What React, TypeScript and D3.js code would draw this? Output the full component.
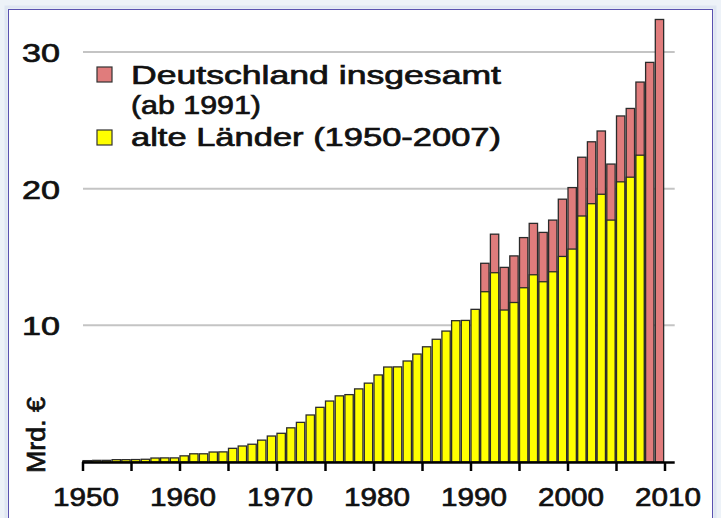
import React from 'react';
import * as d3 from 'd3';

// alte Länder, 1950-2007 (Mrd. €)
const alteYears = [
  1950, 1951, 1952, 1953, 1954, 1955, 1956, 1957, 1958, 1959,
  1960, 1961, 1962, 1963, 1964, 1965, 1966, 1967, 1968, 1969,
  1970, 1971, 1972, 1973, 1974, 1975, 1976, 1977, 1978, 1979,
  1980, 1981, 1982, 1983, 1984, 1985, 1986, 1987, 1988, 1989,
  1990, 1991, 1992, 1993, 1994, 1995, 1996, 1997, 1998, 1999,
  2000, 2001, 2002, 2003, 2004, 2005, 2006, 2007,
];
const alteValues = [
  0.1, 0.12, 0.12, 0.17, 0.17, 0.18, 0.2, 0.29, 0.3, 0.3,
  0.45, 0.6, 0.6, 0.73, 0.74, 1.0, 1.17, 1.3, 1.6, 1.9,
  2.1, 2.5, 2.9, 3.44, 4.0, 4.46, 4.84, 4.93, 5.35, 5.77,
  6.37, 6.95, 6.96, 7.39, 7.9, 8.43, 8.98, 9.58, 10.34, 10.36,
  11.17, 12.46, 13.85, 11.12, 11.67, 12.75, 13.7, 13.19, 13.92, 15.04,
  15.58, 18.0, 18.9, 19.59, 17.7, 20.5, 20.84, 22.45,
];

// Deutschland insgesamt, ab 1991
const gesamtYears = [
  1991, 1992, 1993, 1994, 1995, 1996, 1997, 1998, 1999, 2000,
  2001, 2002, 2003, 2004, 2005, 2006, 2007, 2008, 2009,
];
const gesamtValues = [
  14.54, 16.67, 14.24, 15.08, 16.42, 17.46, 16.8, 17.7, 19.23, 20.08,
  22.3, 23.43, 24.22, 21.8, 25.32, 25.87, 27.8, 29.24, 32.38,
];

const xTicks = [1950, 1955, 1960, 1965, 1970, 1975, 1980, 1985, 1990, 1995, 2000, 2005, 2010];
const xLabels = [1950, 1960, 1970, 1980, 1990, 2000, 2010];
const yTicks = [10, 20, 30];

const legendItems = [
  { lines: ['Deutschland insgesamt', '(ab 1991)'], widths: [370, 130], color: '#e07c7c' },
  { lines: ['alte Länder (1950-2007)'], widths: [370], color: '#ffff00' },
];

const FONT = '"Liberation Sans", Arial, Helvetica, sans-serif';

// shared look of every label: regular face, slightly thickened like the blurry original
const textStyle = {
  fontWeight: 'normal',
  fill: '#111',
  stroke: '#111',
  strokeWidth: 0.7,
};

export default function App() {
  const width = 721;
  const height = 518;

  const x = d3.scaleLinear().domain([1950, 2011]).range([83, 674.7]);
  const y = d3.scaleLinear().domain([0, 30]).range([462, 52]);
  const barW = (x(1951) - x(1950)) * 0.86;

  const pink = legendItems[0].color;
  const yellow = legendItems[1].color;

  return (
    <svg
      width={width}
      height={height}
      style={{ position: 'absolute', left: 0, top: 0, display: 'block' }}
      fontFamily={FONT}
    >
      <rect x={0} y={0} width={width} height={height} fill="#edf2f8" />
      <rect x={6} y={7} width={709} height={540} fill="none" stroke="#dfe6f2" strokeWidth={3} />
      <rect x={8.5} y={9.5} width={704} height={530} fill="#ffffff" stroke="#5a52b0" strokeWidth={1} />

      {/* grid */}
      {yTicks.map((t) => (
        <line
          key={t}
          x1={x(1950)}
          x2={x(2011)}
          y1={y(t)}
          y2={y(t)}
          stroke="#c4c4c4"
          strokeWidth={2}
        />
      ))}

      {/* bars: total behind, alte Länder in front */}
      {gesamtYears.map((yr, i) => (
        <rect
          key={'g' + yr}
          x={x(yr)}
          y={y(gesamtValues[i])}
          width={barW}
          height={y(0) - y(gesamtValues[i])}
          fill={pink}
          stroke="#2b2b2b"
          strokeWidth={1.3}
        />
      ))}
      {alteYears.map((yr, i) => (
        <rect
          key={'a' + yr}
          x={x(yr)}
          y={y(alteValues[i])}
          width={barW}
          height={y(0) - y(alteValues[i])}
          fill={yellow}
          stroke="#2b2b2b"
          strokeWidth={1.3}
        />
      ))}

      {/* x axis */}
      <line x1={x(1950) - 1} x2={x(2011)} y1={y(0) + 0.5} y2={y(0) + 0.5} stroke="#000" strokeWidth={2.5} />
      {xTicks.map((t) => (
        <line key={t} x1={x(t)} x2={x(t)} y1={y(0)} y2={y(0) + 9} stroke="#000" strokeWidth={2.5} />
      ))}
      {xLabels.map((t) => (
        <text
          key={t}
          x={x(t) + 3}
          y={506}
          textAnchor="middle"
          fontSize={26}
          textLength={66}
          lengthAdjust="spacingAndGlyphs"
          style={textStyle}
        >
          {t}
        </text>
      ))}

      {/* y labels */}
      {yTicks.map((t) => (
        <text
          key={t}
          x={60}
          y={y(t) + 10}
          textAnchor="end"
          fontSize={26}
          textLength={38}
          lengthAdjust="spacingAndGlyphs"
          style={textStyle}
        >
          {t}
        </text>
      ))}
      <text
        transform="translate(45,435) rotate(-90)"
        textAnchor="middle"
        fontSize={25}
        textLength={76}
        lengthAdjust="spacingAndGlyphs"
        style={textStyle}
      >
        Mrd. €
      </text>

      {/* legend */}
      <g>
        <rect x={97} y={67} width={15} height={15} fill={pink} stroke="#333" strokeWidth={1.2} />
        <text x={131} y={84} fontSize={26} textLength={legendItems[0].widths[0]} lengthAdjust="spacingAndGlyphs" style={textStyle}>
          {legendItems[0].lines[0]}
        </text>
        <text x={131} y={114} fontSize={26} textLength={legendItems[0].widths[1]} lengthAdjust="spacingAndGlyphs" style={textStyle}>
          {legendItems[0].lines[1]}
        </text>
        <rect x={97} y={130} width={15} height={15} fill={yellow} stroke="#333" strokeWidth={1.2} />
        <text x={131} y={146} fontSize={26} textLength={legendItems[1].widths[0]} lengthAdjust="spacingAndGlyphs" style={textStyle}>
          {legendItems[1].lines[0]}
        </text>
      </g>
    </svg>
  );
}
